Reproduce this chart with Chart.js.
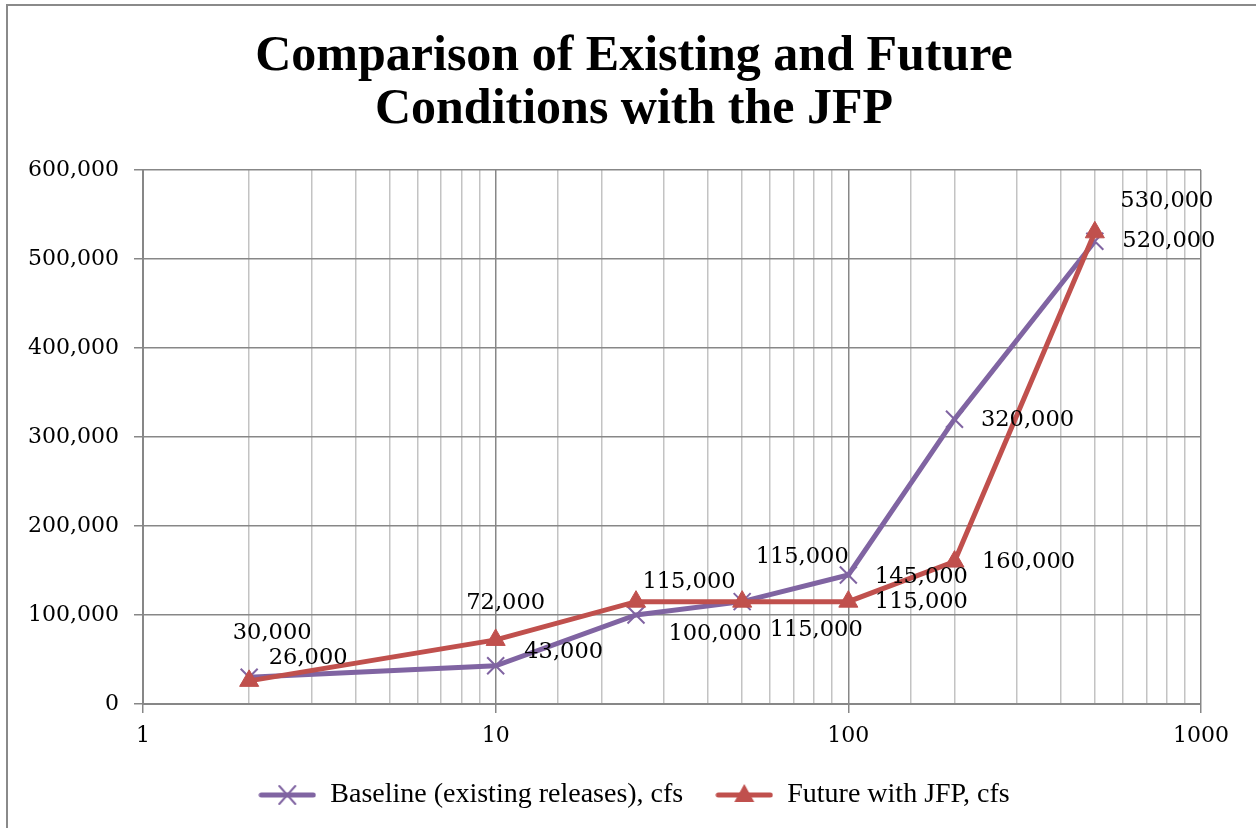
<!DOCTYPE html>
<html>
<head>
<meta charset="utf-8">
<script src="https://cdn.jsdelivr.net/npm/chart.js@4/dist/chart.umd.min.js"></script>
<style>
  html, body { margin: 0; padding: 0; background: #fff; }
  canvas { display: block; }
</style>
</head>
<body>
<canvas id="chart" width="1256" height="828"></canvas>
<script>
// --- datos ---
const returnPeriods = [2, 10, 25, 50, 100, 200, 500];
const baselineCfs = [30000, 43000, 100000, 115000, 145000, 320000, 520000];
const futureCfs = [26000, 72000, 115000, 115000, 115000, 160000, 530000];
const xTickLabels = [1, 10, 100, 1000];
const yTicks = [0, 100000, 200000, 300000, 400000, 500000, 600000];

// desplazamiento de cada etiqueta respecto a su punto (px)
const baselineLabelOffsets = [[23, -44], [68, -14], [79, 19], [60, -44], [73, 2], [73, 1], [74, 0]];
const futureLabelOffsets = [[59, -23], [10, -37], [53, -19], [74, 29], [73, 1], [74, 1], [72, -31]];

const PURPLE = '#8064A2';
const RED = '#C0504D';
const GRID_MAJOR = '#878787';
const GRID_MINOR = '#c3c3c3';

function fmt(v) { return v.toLocaleString('en-US'); }
function isMajor(v) { return xTickLabels.includes(v); }

// muestras de la leyenda: linea + marcador
function legendSample(color, marker) {
  const c = document.createElement('canvas');
  c.width = 58; c.height = 24;
  const g = c.getContext('2d');
  g.strokeStyle = color; g.lineWidth = 5; g.lineCap = 'round';
  g.beginPath(); g.moveTo(3, 12); g.lineTo(55, 12); g.stroke();
  if (marker === 'x') {
    g.lineWidth = 2;
    g.beginPath();
    g.moveTo(21, 3); g.lineTo(37, 21);
    g.moveTo(37, 3); g.lineTo(21, 21);
    g.stroke();
  } else {
    g.fillStyle = color;
    g.beginPath(); g.moveTo(29, 1); g.lineTo(39, 19); g.lineTo(19, 19); g.closePath(); g.fill();
  }
  return c;
}

const frame = {
  id: 'frame',
  beforeDraw(chart) {
    const ctx = chart.ctx;
    ctx.save();
    ctx.fillStyle = '#fff';
    ctx.fillRect(0, 0, chart.width, chart.height);
    ctx.strokeStyle = '#8a8a8a';
    ctx.lineWidth = 2;
    ctx.strokeRect(7, 5, chart.width + 20, chart.height + 20);
    ctx.restore();
  }
};

const pointLabels = {
  id: 'pointLabels',
  afterDatasetsDraw(chart) {
    const ctx = chart.ctx;
    const offsets = [baselineLabelOffsets, futureLabelOffsets];
    ctx.save();
    ctx.font = '22.5px "DejaVu Serif"';
    ctx.fillStyle = '#000';
    ctx.textAlign = 'center';
    ctx.textBaseline = 'middle';
    chart.data.datasets.forEach((ds, i) => {
      const meta = chart.getDatasetMeta(i);
      meta.data.forEach((pt, j) => {
        const [dx, dy] = offsets[i][j];
        ctx.fillText(fmt(ds.data[j].y), pt.x + dx, pt.y + dy);
      });
    });
    ctx.restore();
  }
};

new Chart(document.getElementById('chart'), {
  type: 'line',
  data: {
    datasets: [
      {
        label: 'Baseline (existing releases), cfs',
        data: returnPeriods.map((x, i) => ({ x: x, y: baselineCfs[i] })),
        borderColor: PURPLE,
        backgroundColor: PURPLE,
        borderWidth: 5,
        pointStyle: 'crossRot',
        pointRadius: 12,
        pointBorderWidth: 2,
        pointBorderColor: PURPLE,
        order: 1
      },
      {
        label: 'Future with JFP, cfs',
        data: returnPeriods.map((x, i) => ({ x: x, y: futureCfs[i] })),
        borderColor: RED,
        backgroundColor: RED,
        borderWidth: 5,
        pointStyle: 'triangle',
        pointRadius: 11,
        pointBorderWidth: 1,
        order: 0
      }
    ]
  },
  options: {
    responsive: false,
    animation: false,
    devicePixelRatio: 1,
    layout: { padding: { left: 12, right: 0, top: 0, bottom: 9 } },
    plugins: {
      title: {
        display: true,
        text: ['Comparison of Existing and Future', 'Conditions with the JFP'],
        color: '#000',
        font: { family: '"Liberation Serif"', size: 50, weight: 'bold', lineHeight: 1.06 },
        padding: { top: 31, bottom: 33 }
      },
      legend: {
        position: 'bottom',
        labels: {
          color: '#000',
          font: { family: '"Liberation Serif"', size: 28 },
          usePointStyle: true,
          pointStyleWidth: 58,
          padding: 32,
          sort: (a, b) => a.datasetIndex - b.datasetIndex,
          generateLabels(chart) {
            const samples = [legendSample(PURPLE, 'x'), legendSample(RED, 'tri')];
            return chart.data.datasets.map((ds, i) => ({
              text: ds.label,
              datasetIndex: i,
              pointStyle: samples[i],
              fillStyle: ds.borderColor,
              strokeStyle: ds.borderColor,
              lineWidth: 0,
              fontColor: '#000',
              hidden: false
            }));
          }
        }
      },
      tooltip: { enabled: false }
    },
    scales: {
      x: {
        type: 'logarithmic',
        min: 1,
        max: 1000,
        afterFit(s) { s.height = 45; },
        border: { color: GRID_MAJOR, width: 2 },
        grid: {
          color: c => isMajor(c.tick.value) ? GRID_MAJOR : GRID_MINOR,
          lineWidth: 1.5,
          tickLength: 9,
          tickColor: c => isMajor(c.tick.value) ? GRID_MAJOR : 'rgba(0,0,0,0)'
        },
        ticks: {
          color: '#000',
          font: { family: '"DejaVu Serif"', size: 22 },
          padding: 10,
          autoSkip: false,
          maxRotation: 0,
          callback: v => isMajor(v) ? String(v) : ''
        }
      },
      y: {
        min: 0,
        max: 600000,
        afterFit(s) { s.width = 131; },
        afterBuildTicks(s) { s.ticks = yTicks.map(v => ({ value: v })); },
        border: { color: GRID_MAJOR, width: 2 },
        grid: { color: GRID_MAJOR, lineWidth: 1.5, tickLength: 9, tickColor: GRID_MAJOR },
        ticks: {
          color: '#000',
          font: { family: '"DejaVu Serif"', size: 22 },
          padding: 15,
          callback: v => fmt(v)
        }
      },
      yRight: {
        position: 'right',
        display: true,
        afterFit(s) { s.width = 55; },
        grid: { display: false },
        border: { display: false },
        ticks: { display: false }
      }
    }
  },
  plugins: [frame, pointLabels]
});
</script>
</body>
</html>
